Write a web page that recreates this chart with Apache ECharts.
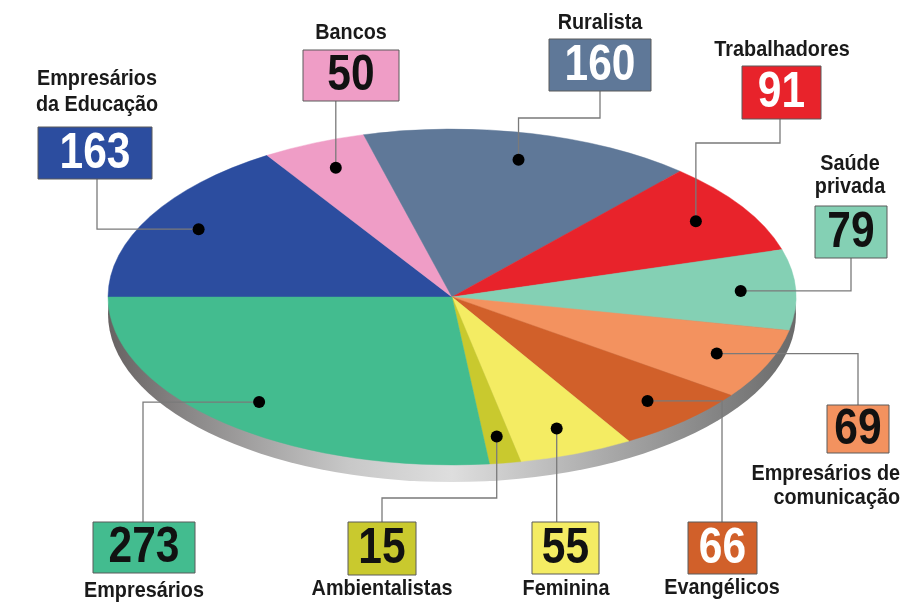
<!DOCTYPE html>
<html>
<head>
<meta charset="utf-8">
<title>Bancadas</title>
<script src="https://cdn.jsdelivr.net/npm/echarts@6/dist/echarts.min.js"></script>
<style>
html, body { margin: 0; padding: 0; background: #fff; }
#main { width: 908px; height: 604px; }
</style>
</head>
<body>
<div id="main"></div>
<script>
// dados (sentido horário a partir da esquerda)
var categories = ['Empresários\nda Educação', 'Bancos', 'Ruralista', 'Trabalhadores', 'Saúde\nprivada',
    'Empresários de\ncomunicação', 'Evangélicos', 'Feminina', 'Ambientalistas', 'Empresários'];
var values = [163, 50, 160, 91, 79, 69, 66, 55, 15, 273];

// cores
var colors = ['#2c4d9f', '#ef9dc6', '#5f7898', '#e8232b', '#84d0b4',
    '#f3925f', '#d1602a', '#f4ec63', '#c9c92e', '#43bc8f'];
var numColors = ['#fff', '#111', '#fff', '#fff', '#111', '#111', '#fff', '#111', '#111', '#111'];

// caixas dos rótulos: box [x, y, w, h], título [x, y], ligação
var labelLayout = [
    { box: [38, 127, 114, 52], title: [97, 92], lh: 26, align: 'center', anchor: [97, 179], route: 'hv' },
    { box: [303, 50, 96, 51], title: [351, 33], lh: 24, align: 'center', anchor: [351, 101], route: 'v' },
    { box: [549, 39, 102, 52], title: [600, 23], lh: 24, align: 'center', anchor: [600, 91], route: 'vhv', bend: 118 },
    { box: [742, 66, 79, 53], title: [782, 50], lh: 24, align: 'center', anchor: [780, 119], route: 'vhv', bend: 143 },
    { box: [815, 206, 72, 52], title: [850, 175], lh: 23, align: 'center', anchor: [851, 258], route: 'hv' },
    { box: [827, 405, 62, 48], title: [900, 486], lh: 24, align: 'right', anchor: [858, 405], route: 'hv' },
    { box: [688, 522, 69, 52], title: [722, 588], lh: 24, align: 'center', anchor: [722, 522], route: 'hv' },
    { box: [532, 522, 67, 52], title: [566, 589], lh: 24, align: 'center', anchor: [565, 522], route: 'v' },
    { box: [348, 522, 68, 53], title: [382, 589], lh: 24, align: 'center', anchor: [382, 522], route: 'vhv', bend: 498 },
    { box: [93, 522, 102, 51], title: [144, 591], lh: 24, align: 'center', anchor: [143, 522], route: 'hv' }
];

var squash = 168 / 344;   // achatamento vertical da pizza
var rimDepth = 17;        // espessura da borda cinza
var dotRadius = 0.84;     // posição do ponto dentro da fatia

var total = 0;
var sliceData = [];
for (var i = 0; i < values.length; i++) {
    sliceData.push([total, total + values[i], values[i]]);
    total += values[i];
}

// polar: coord recebe [raio, ângulo]
function toEllipse(c, p) {
    return [p[0], c[1] + (p[1] - c[1]) * squash];
}

function renderRim(params, api) {
    var c = api.coord([0, 0]);
    var p = api.coord([1, 0]);
    var r = Math.sqrt(Math.pow(p[0] - c[0], 2) + Math.pow(p[1] - c[1], 2));
    return {
        type: 'circle',
        shape: { cx: c[0], cy: c[1] + rimDepth, r: r },
        scaleY: squash,
        originX: c[0],
        originY: c[1] + rimDepth,
        style: {
            fill: new echarts.graphic.LinearGradient(0, 0, 1, 0, [
                { offset: 0, color: '#676262' },
                { offset: 0.12, color: '#8a8888' },
                { offset: 0.35, color: '#c8c8c8' },
                { offset: 0.5, color: '#dedede' },
                { offset: 0.68, color: '#b4b4b4' },
                { offset: 0.88, color: '#858585' },
                { offset: 1, color: '#6a6a6a' }
            ])
        }
    };
}

function renderSlice(params, api) {
    var idx = params.dataIndex;
    var c = api.coord([0, 0]);
    var p0 = api.coord([1, api.value(0)]);
    var p1 = api.coord([1, api.value(1)]);
    var r = Math.sqrt(Math.pow(p0[0] - c[0], 2) + Math.pow(p0[1] - c[1], 2));
    var a0 = Math.atan2(p0[1] - c[1], p0[0] - c[0]);
    var a1 = Math.atan2(p1[1] - c[1], p1[0] - c[0]);
    while (a1 <= a0) a1 += Math.PI * 2;
    return {
        type: 'sector',
        shape: { cx: c[0], cy: c[1], r: r, r0: 0, startAngle: a0, endAngle: a1, clockwise: true },
        scaleY: squash,
        originX: c[0],
        originY: c[1],
        style: { fill: colors[idx], stroke: colors[idx], lineWidth: 0.6 }
    };
}

function renderLabel(params, api) {
    var idx = params.dataIndex;
    var lay = labelLayout[idx];
    var c = api.coord([0, 0]);
    var mid = (api.value(0) + api.value(1)) / 2;
    var dot = toEllipse(c, api.coord([dotRadius, mid]));
    var a = lay.anchor;
    var pts;
    if (lay.route === 'v') {
        pts = [dot, [dot[0], a[1]]];
    } else if (lay.route === 'hv') {
        pts = [dot, [a[0], dot[1]], a];
    } else {
        pts = [dot, [dot[0], lay.bend], [a[0], lay.bend], a];
    }
    var b = lay.box;
    return {
        type: 'group',
        children: [
            { type: 'polyline', shape: { points: pts }, style: { stroke: '#7a7a7a', lineWidth: 1.3, fill: null }, z2: 10 },
            { type: 'circle', shape: { cx: dot[0], cy: dot[1], r: 6 }, style: { fill: '#000' }, z2: 11 },
            { type: 'rect', shape: { x: b[0], y: b[1], width: b[2], height: b[3] },
              style: { fill: colors[idx], stroke: '#5a5a5a', lineWidth: 1 }, z2: 12 },
            { type: 'text', x: b[0] + b[2] / 2, y: b[1] + b[3] / 2 + 1, scaleX: 0.85, z2: 13,
              style: { text: String(api.value(2)), fill: numColors[idx], font: 'bold 50px "Liberation Sans", Arial, sans-serif',
                       textAlign: 'center', textVerticalAlign: 'middle' } },
            { type: 'text', x: lay.title[0], y: lay.title[1], scaleX: 0.9, z2: 13,
              style: { text: categories[idx], fill: '#1a1a1a', font: 'bold 22px "Liberation Sans", Arial, sans-serif',
                       lineHeight: lay.lh, textAlign: lay.align, textVerticalAlign: 'middle' } }
        ]
    };
}

var myChart = echarts.init(document.getElementById('main'));
var option = {
    backgroundColor: '#ffffff',
    animation: false,
    polar: { center: [452, 297], radius: 344 },
    angleAxis: { type: 'value', min: 0, max: total, startAngle: 180, clockwise: true, show: false },
    radiusAxis: { type: 'value', min: 0, max: 1, show: false },
    series: [{
        name: 'borda',
        type: 'custom',
        coordinateSystem: 'polar',
        silent: true,
        z: 1,
        renderItem: renderRim,
        data: [[0, total]]
    }, {
        name: 'fatias',
        type: 'custom',
        coordinateSystem: 'polar',
        silent: true,
        z: 2,
        renderItem: renderSlice,
        data: sliceData
    }, {
        name: 'rotulos',
        type: 'custom',
        coordinateSystem: 'polar',
        silent: true,
        z: 3,
        renderItem: renderLabel,
        data: sliceData
    }]
};
myChart.setOption(option, true);
</script>
</body>
</html>
